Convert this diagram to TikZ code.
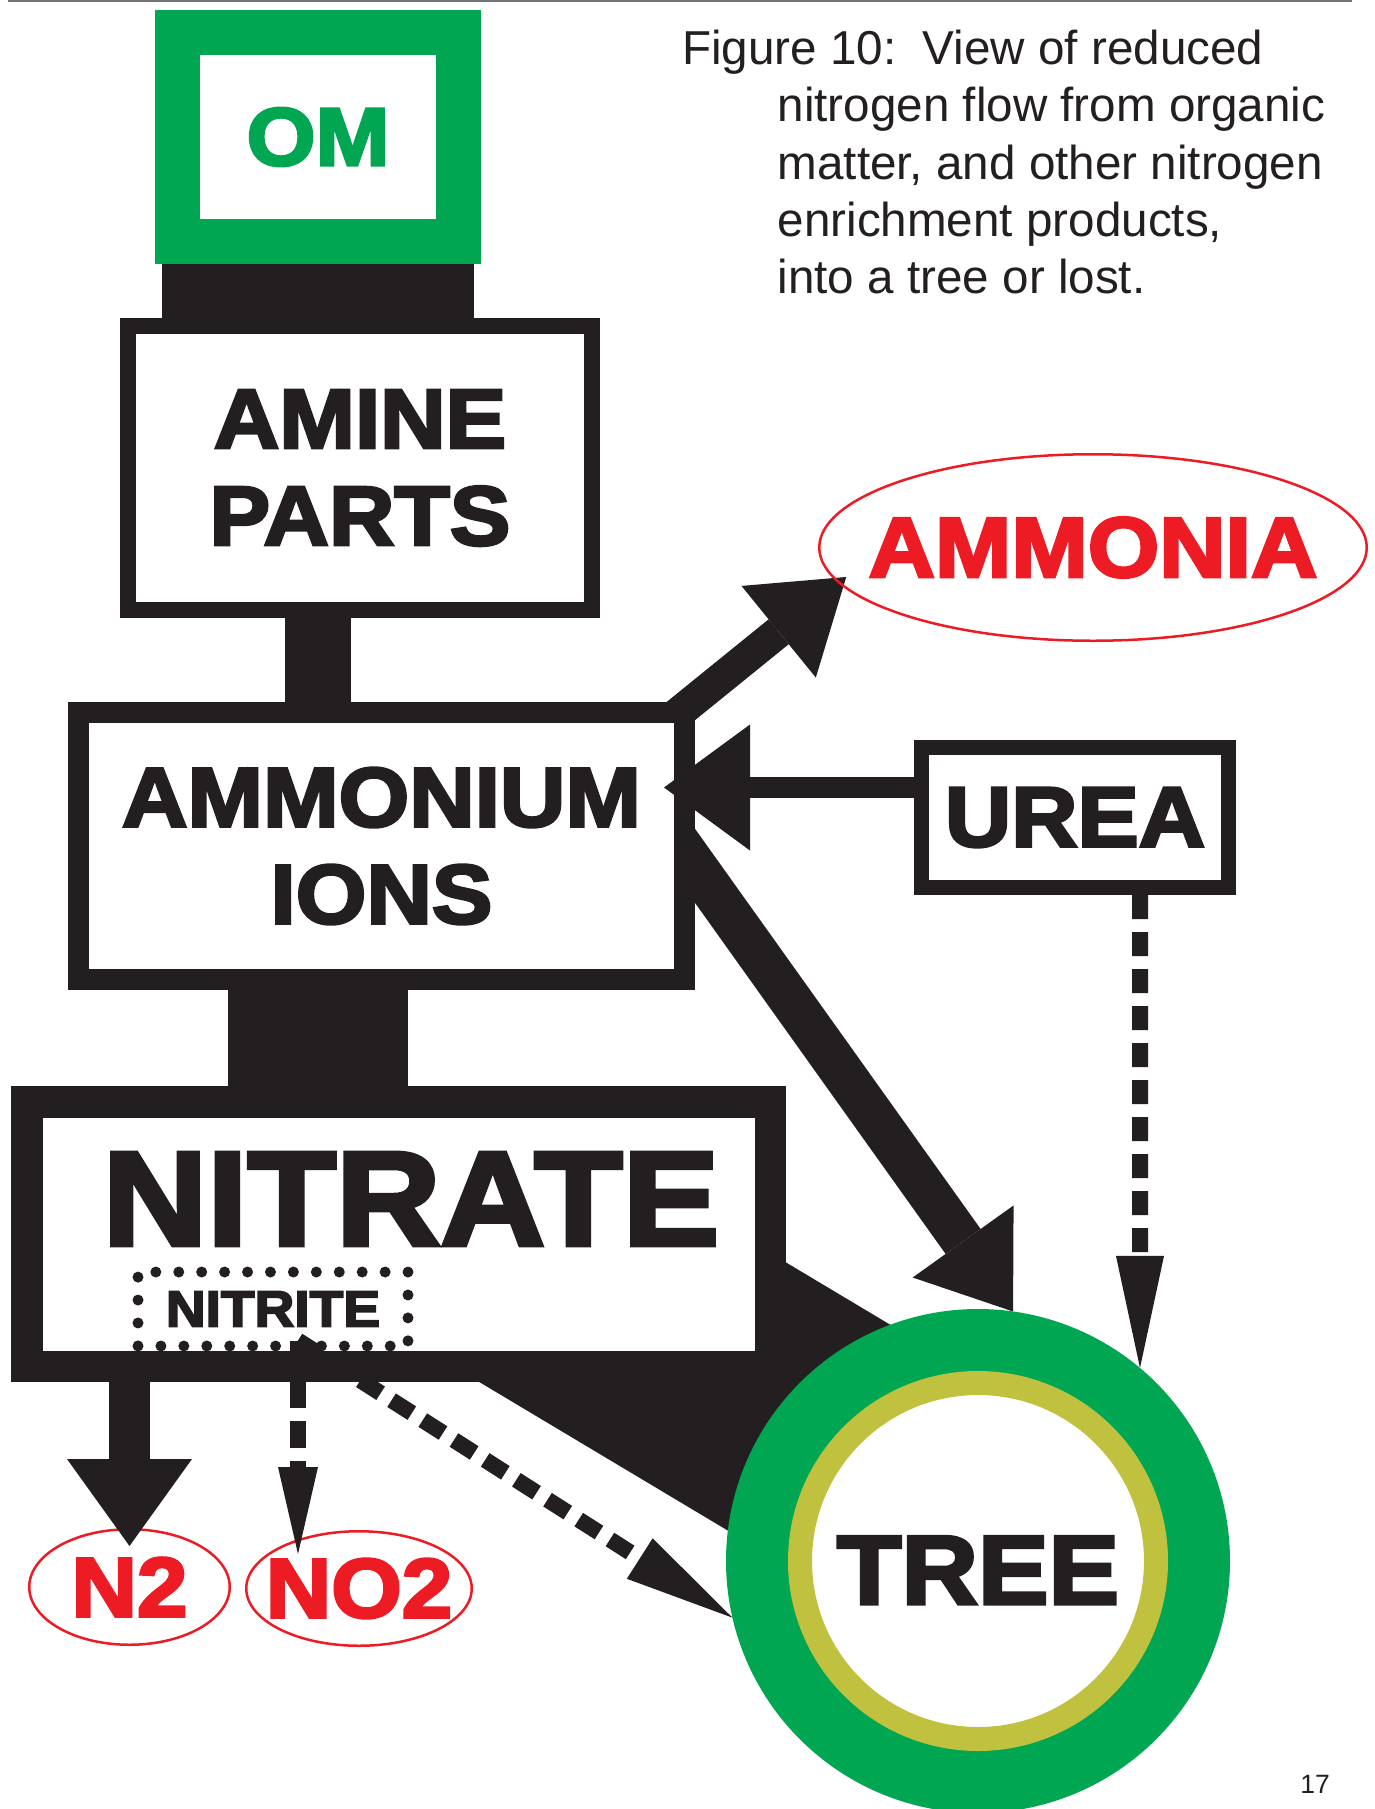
\documentclass[tikz,border=0pt]{standalone}
\usepackage{fontspec}
\setmainfont{Liberation Sans}
\newfontfamily\heavyfont{Liberation Sans}[UprightFont={* Bold},FakeBold=3.5,FakeStretch=1.08]
\usetikzlibrary{arrows.meta,shapes.geometric,backgrounds}

\begin{document}
\begin{tikzpicture}[
  x=1pt,y=-1pt,
  box/.style={draw=ink,fill=white,inner sep=0pt,align=center,text=ink,
    font=\heavyfont\fontsize{84}{97}\selectfont},
  gas/.style={ellipse,draw=loss,line width=2.5pt,inner xsep=-90pt,
    inner ysep=0pt,text=loss,font=\heavyfont\fontsize{84}{97}\selectfont},
  stem/.style={draw=ink},
  flow/.style={draw=ink,-{Triangle[length=86pt,width=124pt,line width=0pt]}},
  leak/.style={draw=ink,line width=16pt,dash pattern=on 24pt off 13pt,
    -{Triangle[length=112pt,width=48pt,line width=0pt]}},
  captiontext/.style={font=\fontsize{47.6}{57.3}\selectfont,text=ink,
    align=left,inner sep=0pt},
  rule/.style={draw=black!55,line width=2pt}
]

\definecolor{ink}{RGB}{35,31,32}
\definecolor{leaf}{RGB}{0,166,81}
\definecolor{olive}{RGB}{192,193,63}
\definecolor{loss}{RGB}{237,28,36}

\useasboundingbox (0,0) rectangle (1374,1809);

\draw[rule] (8,1) -- (1352,1);

% sources and pools
\node[box,draw=leaf,text=leaf,line width=45pt,minimum width=281pt,
  minimum height=209pt,font=\heavyfont\fontsize{82}{82}\selectfont]
  (om) at (318,137) {OM};
\node[box,line width=16pt,minimum width=464pt,minimum height=284pt]
  (amine) at (360,468) {AMINE\\PARTS};
\node[box,line width=21pt,minimum width=606pt,minimum height=267pt]
  (ammonium) at (381.5,846) {AMMONIUM\\IONS};
\node[box,line width=31.5pt,minimum width=743.5pt,minimum height=264.5pt]
  (nitrate) at (398.5,1234) {};
\node[text=ink,inner sep=0pt,font=\heavyfont\fontsize{134}{134}\selectfont]
  (nitratelabel) at (411,1199) {NITRATE};
\node[box,line width=11pt,line cap=round,dash pattern=on 0pt off 22.93pt,
  minimum width=270pt,minimum height=74pt,
  font=\heavyfont\fontsize{51}{51}\selectfont]
  (nitrite) at (273,1309) {NITRITE};
\node[box,line width=15pt,minimum width=307pt,minimum height=140pt,
  font=\heavyfont\fontsize{85}{85}\selectfont]
  (urea) at (1075,817.5) {UREA};

% losses
\node[gas,minimum width=547.5pt,minimum height=186.5pt,
  font=\heavyfont\fontsize{85}{85}\selectfont]
  (ammonia) at (1093,547.5) {AMMONIA};
\node[gas,minimum width=200.5pt,minimum height=115.5pt]
  (n2) at (129.5,1587) {N2};
\node[gas,minimum width=225.5pt,minimum height=114.5pt]
  (no2) at (359,1588.5) {NO2};

% the tree
\node[circle,fill=white,draw=olive,line width=24pt,minimum size=356pt,
  inner sep=0pt,outer sep=74pt,preaction={draw=leaf,line width=148pt},
  text=ink,text height=86pt,font=\heavyfont\fontsize{98}{98}\selectfont]
  (tree) at (978,1561) {TREE};

\node[captiontext,anchor=north west] (caption) at (682,30)
  {Figure 10:\ \ View of reduced\\
   \hspace*{95.5pt}nitrogen flow from organic\\
   \hspace*{95.5pt}matter, and other nitrogen\\
   \hspace*{95.5pt}enrichment products,\\
   \hspace*{95.5pt}into a tree or lost.};
\node[text=ink,inner sep=0pt,font=\fontsize{26.5}{26.5}\selectfont]
  (page) at (1315,1784.5) {17};

% flows hidden under the boxes
\begin{scope}[on background layer]
  \fill[white] (0,0) rectangle (1374,1809);
  \draw[stem,line width=312pt] (om.south) -- (om.south |- amine.north);
  \draw[stem,line width=66pt] (om.south |- amine.south)
    -- (om.south |- ammonium.north);
  \draw[stem,line width=180pt] (om.south |- ammonium.south)
    -- (om.south |- nitrate.north);
  \draw[stem,line width=260pt] ([xshift=120pt,yshift=-20pt]nitrate.center)
    -- ([xshift=14pt,yshift=24pt]tree.center);
  \draw[flow,line width=32pt,shorten >=-10pt,
    -{Triangle[length=87pt,width=118pt,line width=0pt]}]
    ([xshift=-40pt,yshift=-30pt]ammonium.north east) -- (ammonia.188);
  \draw[flow,line width=43pt] ([xshift=-22pt,yshift=11pt]ammonium.east)
    -- (tree.82);
\end{scope}

% flows drawn on top
\coordinate (ureaout) at ([yshift=30pt]urea.west);
\draw[flow,line width=21pt,shorten >=-31pt,
  -{Triangle[length=86pt,width=126pt,line width=0pt]}]
  (ureaout) -- (ureaout -| ammonium.east);
\draw[flow,line width=41pt,-{Triangle[length=87pt,width=125pt,line width=0pt]}]
  (nitrate.south -| n2.north) -- ([yshift=-18pt]n2.north);

\coordinate (nitriteout) at ([xshift=25pt,yshift=11pt]nitrite.south);
\draw[leak,dash pattern=on 27pt off 13pt,
  -{Triangle[length=87pt,width=40pt,line width=0pt]}]
  (nitriteout) -- ([xshift=-61pt,yshift=-24pt]no2.north);
\draw[leak,-{Triangle[length=110pt,width=48pt,line width=0pt]}]
  (nitriteout) -- (tree.193);
\draw[leak] ([xshift=65pt]urea.south) -- (tree.50);

\end{tikzpicture}
\end{document}
